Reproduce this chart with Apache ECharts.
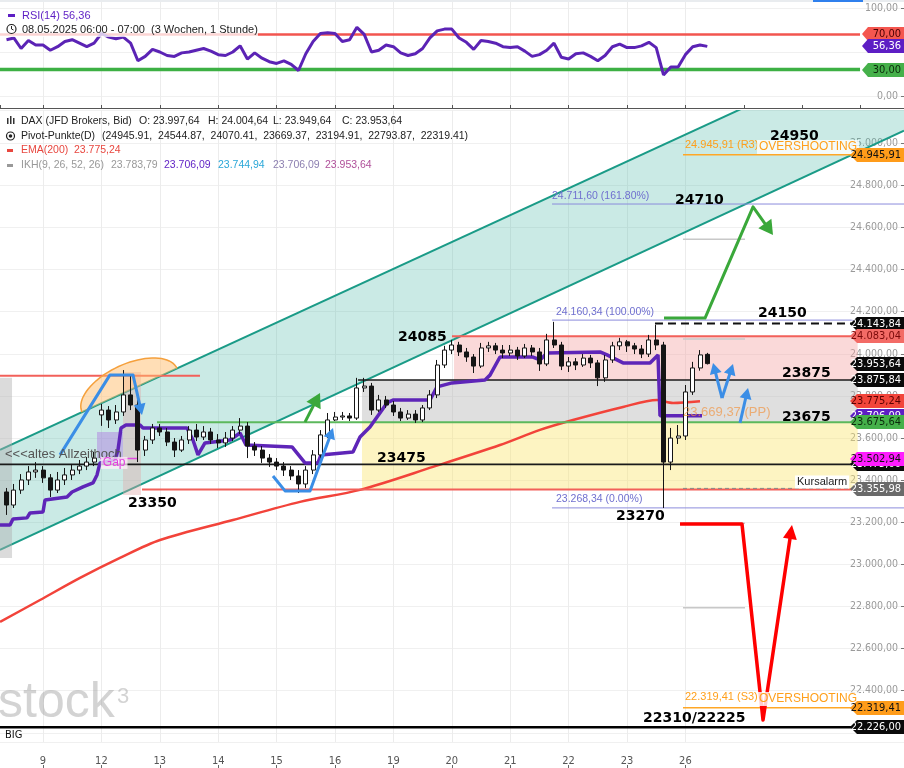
<!DOCTYPE html>
<html><head><meta charset="utf-8"><title>DAX</title>
<script src="https://cdn.jsdelivr.net/npm/echarts@6.0.0/dist/echarts.min.js"></script>
<style>html,body{margin:0;padding:0;background:#fff;overflow:hidden}#chart{width:904px;height:768px}</style>
</head><body><div id="chart"></div><script>
// ---------------- data ----------------
const dayLabels = ['9','12','13','14','15','16','19','20','21','22','23','26'];
// [open, close, low, high], 8 bars per trading day, first bar = slot 3 of 08.05.
const candles = [
[23344,23282,23235,23363],[23282,23353,23268,23382],[23353,23401,23335,23429],[23401,23439,23377,23467],[23439,23448,23411,23486],
[23448,23411,23387,23467],[23411,23353,23320,23429],[23353,23401,23339,23439],[23401,23425,23377,23458],[23425,23448,23401,23477],[23448,23467,23429,23496],[23467,23486,23448,23510],[23486,23505,23467,23534],
[23710,23733,23658,23762],[23733,23686,23648,23752],[23686,23724,23667,23757],[23724,23805,23705,23923],[23805,23757,23733,23895],[23757,23543,23486,23781],[23543,23591,23515,23610],[23591,23648,23572,23667],
[23648,23629,23610,23667],[23629,23581,23562,23648],[23581,23543,23510,23600],[23543,23591,23534,23610],[23591,23638,23572,23657],[23638,23605,23586,23667],[23605,23629,23591,23657],[23629,23591,23572,23648],
[23591,23577,23553,23619],[23577,23600,23558,23629],[23600,23638,23586,23657],[23638,23657,23619,23695],[23657,23562,23505,23676],[23562,23543,23515,23581],[23543,23505,23482,23562],[23505,23486,23463,23524],
[23486,23467,23448,23505],[23467,23448,23420,23486],[23448,23420,23401,23467],[23420,23382,23339,23448],[23382,23448,23363,23467],[23448,23520,23429,23543],[23520,23615,23505,23638],[23615,23686,23600,23719],
[23686,23700,23681,23724],[23700,23705,23686,23724],[23705,23695,23681,23719],[23695,23838,23686,23886],[23838,23847,23819,23886],[23847,23733,23710,23862],[23733,23781,23724,23805],[23781,23757,23743,23800],
[23757,23724,23705,23776],[23724,23695,23681,23743],[23695,23714,23686,23733],[23714,23686,23672,23733],[23686,23743,23676,23757],[23743,23805,23733,23828],[23805,23947,23790,23971],[23947,24018,23933,24038],
[24018,24042,23999,24066],[24042,24009,23990,24057],[24009,23985,23962,24028],[23985,23942,23909,23999],[23942,24028,23933,24052],[24028,24038,24009,24057],[24038,24018,23999,24052],[24018,24004,23980,24042],
[24004,24018,23990,24042],[24018,23990,23971,24033],[23990,24028,23980,24047],[24028,24009,23990,24042],[24009,23952,23919,24028],[23952,24066,23942,24095],[24066,24042,24028,24152],[24042,23942,23923,24057],
[23942,23962,23914,23985],[23962,23947,23923,23980],[23947,23980,23938,23999],[23980,23957,23933,23995],[23957,23886,23847,23971],[23886,23971,23867,23995],[23971,24038,23957,24057],[24038,24057,24018,24076],
[24057,24038,24009,24066],[24038,24023,23999,24052],[24023,23999,23980,24042],[23999,24066,23985,24090],[24066,24042,24018,24138],[24042,23486,23268,24057],[23486,23600,23448,23648],[23600,23610,23572,23662],
[23610,23819,23591,23852],[23819,23933,23805,23962],[23933,23995,23920,24018],[23997.64,23953.64,23949.64,24004.64]
];
const rsiValues = [64,66,54,63,58,58,52,56,62,64,60,56,60,71,67,65,67,60,40,45,53,50,46,45,49,50,52,54,51,47,46,50,57,42,49,43,39,37,40,36,29,48,62,71,72,71,62,64,78,70,50,52,58,56,49,46,48,54,66,74,76,76,66,61,53,63,62,60,56,55,56,51,45,47,52,60,44,42,48,49,45,40,46,56,59,55,55,57,61,55,24,33,33,47,56,58,56.36];
const emaPoints = [[0.264,22727],[0.949,22831],[1.634,22936],[2.318,23031],[3.003,23116],[4.253,23211],[5.401,23297],[6.428,23354],[7.678,23463],[8.825,23567],[9.51,23639],[10.075,23686],[10.932,23748],[11.514,23781],[11.788,23767],[12.25,23775.24]];
const ikhPoints = [[0.264,23187],[0.435,23187],[0.486,23216],[0.726,23221],[0.777,23244],[1.0,23249],[1.034,23306],[1.411,23320],[1.497,23344],[1.685,23368],[1.856,23387],[1.925,23425],[1.976,23482],[2.233,23496],[2.284,23543],[2.336,23648],[2.421,23662],[2.661,23662],[2.712,23648],[3.466,23648],[3.568,23591],[3.654,23520],[3.774,23577],[4.202,23591],[4.373,23624],[4.476,23567],[5.264,23558],[5.486,23482],[5.709,23482],[5.76,23520],[6.308,23534],[6.428,23605],[6.599,23653],[6.89,23767],[6.993,23781],[7.627,23781],[7.747,23843],[8.003,23862],[8.568,23876],[8.654,23899],[8.825,23985],[9.39,23985],[9.51,23971],[9.63,24004],[10.538,24009],[10.658,23995],[10.932,23957],[11.394,23957],[11.531,23995],[11.565,23706.09],[12.284,23706.09]];
const channelUpper = [[0.2637,23544],[15.743,25519]];
const channelLower = [[0.2637,23069],[15.743,25060]];
const domeChord = [[1.668,23723],[3.295,23931]];
const zonePink = [[8.038,14.95,23875.84,24083.04]];
const zoneGray = [[6.462,14.95,23675.64,23875.84]];
const zoneYellow = [[6.462,14.95,23355.98,23675.64]];
const bandGray = [[0.2637,0.47,23031,23886]];
const bandPink = [[2.37,2.678,23330,23914]];
const gapBox = [[1.925,2.37,23505,23629]];
const redLevels = [[0.2637,3.688,23896],[8.003,15.743,24083.04],[2.695,15.743,23355.98]];
const blackLevels = [[6.394,15.743,23875.84],[0.2637,15.743,23475]];
const greenLevels = [[2.952,15.743,23675.64]];
const bigLevels = [[0.2637,15.743,22226]];
const fibLevels = [[9.716,15.743,24711.60],[9.716,15.743,24160.34],[9.716,15.743,23268.34]];
const pivotGrayLevels = [[11.959,13.021,24544.87],[11.959,13.021,24070.41],[11.959,13.021,23194.91],[11.959,13.021,22793.87]];
const pivotOrangeLevels = [[11.959,15.743,24945.91],[11.959,15.743,22319.41]];
const dashedLevels = [[11.479,14.85,24143.84]];
const alarmLevels = [[11.959,14.904,23361]];
const magentaLevels = [[1.976,2.627,23502.94]];
const rsiRedLevels = [[0.2637,14.99,70]];
const rsiGreenLevels = [[0.2637,14.99,30]];
const blueArrows = [
  [[1.291,23520],[2.147,23900],[2.541,23900],[2.695,23710]],
  [[4.938,23420],[5.144,23349],[5.572,23349],[5.966,23648]],
  [[12.627,23790],[12.473,23957]],
  [[12.627,23790],[12.815,23952]],
  [[12.935,23672],[13.072,23838]]
];
const greenArrows = [
  [[5.486,23676],[5.743,23814]],
  [[11.634,24170],[12.336,24170],[13.158,24698],[13.5,24565]]
];
const redArrows = [[[11.908,23192],[12.969,23192],[13.329,22261],[13.825,23187]]];
const boldLabelPos = [[13.449,25035],[11.822,24731],[13.243,24190],[7.079,24080],[13.654,23905],[13.654,23700],[6.719,23506],[2.455,23292],[10.812,23230],[11.274,22271]];
const boldLabelText = ['24950','24710','24150','24085','23875','23675','23475','23350','23270','22310/22225'];
const fibLabelPos = [[9.716,24750],[9.784,24199],[9.784,23311]];
const fibLabelText = ['24.711,60 (161.80%)','24.160,34 (100.00%)','23.268,34 (0.00%)'];
const pivotLabelPos = [[11.993,24992],[11.993,22370]];
const pivotLabelText = ['24.945,91 (R3)','22.319,41 (S3)'];
const ppLabelPos = [[11.959,23724]];
const ppLabelText = ['23.669,37 (PP)'];
const overLabelPos = [[13.226,24983],[13.226,22361]];
const overLabelText = ['OVERSHOOTING','OVERSHOOTING'];
const noteLabelPos = [[0.349,23520]];
const noteLabelText = ['<<<altes Allzeithoch'];
const gapLabelPos = [[1.99,23482]];
const gapLabelText = ['Gap'];
const alarmLabelPos = [[13.877,23391]];
const alarmLabelText = ['Kursalarm'];
const bigLabelPos = [[0.349,22188]];
const bigLabelText = ['BIG'];
const tagPrices = [24945.91,24143.84,24083.04,23953.64,23875.84,23775.24,23706.09,23675.64,23475.00,23502.94,23355.98,22319.41,22226.00];
const rsiTagValues = [70,56.36,30];

// ---------------- styles ----------------
const tagStyles = [
  {bg:'#ff9c1a',fg:'#111'},{bg:'#0a0a0a',fg:'#fff'},{bg:'#f36b66',fg:'#7a0a0a'},{bg:'#0a0a0a',fg:'#fff'},
  {bg:'#0a0a0a',fg:'#fff'},{bg:'#f2453b',fg:'#5a0000'},{bg:'#5d1ec4',fg:'#fff'},{bg:'#45b04a',fg:'#0b2a0b'},
  {bg:'#0a0a0a',fg:'#fff'},{bg:'#ff1cff',fg:'#111'},{bg:'#6a6a6a',fg:'#fff'},{bg:'#ff9c1a',fg:'#111'},{bg:'#0a0a0a',fg:'#fff'}
];
const rsiTagStyles = [{bg:'#f4564f',fg:'#4a0000'},{bg:'#5d1ec4',fg:'#fff'},{bg:'#45b04a',fg:'#0b2a0b'}];
const SANS = '"Liberation Sans", Arial, sans-serif';
const NARROW = '"Liberation Sans Narrow", "DejaVu Sans Condensed", "Liberation Sans", sans-serif';
const X_MIN = 0.2637, X_MAX = 15.743, PX_PER_DAY = 58.4;
const xOf = k => (k + 3) / 8;

function fmt(v) {
  const s = Math.abs(v).toFixed(2).split('.');
  return (v < 0 ? '-' : '') + s[0].replace(/\B(?=(\d{3})+(?!\d))/g, '.') + ',' + s[1];
}
const GM = {xAxisIndex:1, yAxisIndex:1};
const GR = {xAxisIndex:0, yAxisIndex:0};

function segSeries(segs, st, z, g) {
  return Object.assign({type:'custom', silent:true, clip:true, z:z, data:segs, encode:{x:[0,1], y:2},
    renderItem:function(params, api){
      const a = api.coord([api.value(0), api.value(2)]);
      const b = api.coord([api.value(1), api.value(2)]);
      return {type:'line', shape:{x1:a[0], y1:a[1], x2:b[0], y2:b[1]},
        style:{stroke:st.color, lineWidth:st.width, lineDash:st.dash || null}};
    }}, g || GM);
}
function rectSeries(rects, fill, z) {
  return Object.assign({type:'custom', silent:true, clip:true, z:z, data:rects, encode:{x:[0,1], y:[2,3]},
    renderItem:function(params, api){
      const a = api.coord([api.value(0), api.value(3)]);
      const b = api.coord([api.value(1), api.value(2)]);
      return {type:'rect', shape:{x:a[0], y:a[1], width:b[0]-a[0], height:b[1]-a[1]}, style:{fill:fill}};
    }}, GM);
}
function textSeries(pos, texts, st, z) {
  return Object.assign({type:'custom', silent:true, clip:false, z:z,
    data:pos.map((p,i)=>[p[0],p[1],i]), encode:{x:0, y:1},
    renderItem:function(params, api){
      const c = api.coord([api.value(0), api.value(1)]);
      const s = {text:texts[api.value(2)], x:c[0], y:c[1], fill:st.color, font:st.font,
        align:'left', verticalAlign:'middle'};
      if (st.bg) { s.backgroundColor = st.bg; s.padding = st.pad || [1,2]; }
      return {type:'text', style:s};
    }}, GM);
}
function arrowSeries(lines, st, z) {
  return Object.assign({type:'custom', silent:true, clip:true, z:z,
    data:lines.map((l,i)=>[l[0][0], l[0][1], i]), encode:{x:0, y:1},
    renderItem:function(params, api){
      const pts = lines[api.value(2)].map(p => api.coord(p));
      const T = pts[pts.length-1], P = pts[pts.length-2];
      const dx = T[0]-P[0], dy = T[1]-P[1], L = Math.hypot(dx,dy);
      const ux = dx/L, uy = dy/L, nx = -uy, ny = ux;
      const bx = T[0]-ux*st.head, by = T[1]-uy*st.head;
      const line = pts.slice(0,-1).concat([[bx+ux*2, by+uy*2]]);
      return {type:'group', children:[
        {type:'polyline', shape:{points:line}, style:{stroke:st.color, lineWidth:st.width, fill:null, lineJoin:'round'}},
        {type:'polygon', shape:{points:[T,[bx+nx*st.half, by+ny*st.half],[bx-nx*st.half, by-ny*st.half]]}, style:{fill:st.color}}
      ]};
    }}, GM);
}
function tagSeries(vals, styles, g, z, tipW, bodyW) {
  return Object.assign({type:'custom', silent:true, clip:false, z:z,
    data:vals.map((p,i)=>[1,p,i]), encode:{x:0, y:1},
    renderItem:function(params, api){
      const cs = params.coordSys, R = cs.x + cs.width;
      const y = Math.round(api.coord([api.value(0), api.value(1)])[1]);
      const st = styles[api.value(2)], h = 7;
      return {type:'group', children:[
        {type:'polygon', shape:{points:[[R-tipW,y],[R-bodyW,y-h],[R,y-h],[R,y+h],[R-bodyW,y+h]]}, style:{fill:st.bg}},
        {type:'text', style:{text:fmt(api.value(1)), x:R-3, y:y+0.5, align:'right', verticalAlign:'middle', fill:st.fg, font:'11px ' + NARROW}}
      ]};
    }}, g);
}
const channelSeries = Object.assign({type:'custom', silent:true, clip:true, z:2,
  data:[[channelUpper[0][0], channelUpper[0][1]]], encode:{x:0, y:1},
  renderItem:function(params, api){
    const u0 = api.coord(channelUpper[0]), u1 = api.coord(channelUpper[1]);
    const l0 = api.coord(channelLower[0]), l1 = api.coord(channelLower[1]);
    return {type:'group', children:[
      {type:'polygon', shape:{points:[u0,u1,l1,l0]}, style:{fill:'rgba(80,185,170,0.30)'}},
      {type:'line', shape:{x1:u0[0],y1:u0[1],x2:u1[0],y2:u1[1]}, style:{stroke:'#1a9b87', lineWidth:2}},
      {type:'line', shape:{x1:l0[0],y1:l0[1],x2:l1[0],y2:l1[1]}, style:{stroke:'#1a9b87', lineWidth:2}}
    ]};
  }}, GM);
const domeSeries = Object.assign({type:'custom', silent:true, clip:true, z:5,
  data:[[domeChord[0][0], domeChord[0][1]]], encode:{x:0, y:1},
  renderItem:function(params, api){
    const A = api.coord(domeChord[0]), B = api.coord(domeChord[1]);
    const cx = (A[0]+B[0])/2, cy = (A[1]+B[1])/2, dx = B[0]-A[0], dy = B[1]-A[1];
    const len = Math.hypot(dx,dy), a = len/2, b = a*0.5, ux = dx/len, uy = dy/len, nx = uy, ny = -ux;
    const pts = [];
    for (let i = 0; i <= 40; i++) { const t = Math.PI*i/40;
      pts.push([cx + a*Math.cos(t)*ux + b*Math.sin(t)*nx, cy + a*Math.cos(t)*uy + b*Math.sin(t)*ny]); }
    return {type:'group', children:[
      {type:'polygon', shape:{points:pts}, style:{fill:'rgba(255,190,110,0.5)'}},
      {type:'polyline', shape:{points:pts}, style:{stroke:'#f5a03c', lineWidth:1.5, fill:null}}
    ]};
  }}, GM);

// ---------------- graphics (legends, watermark) ----------------
const G = [];
function gt(x, y, text, color, font, z) {
  G.push({type:'text', x:x, y:y, z:z || 100, silent:true,
    style:{text:text, fill:color, font:font, align:'left', verticalAlign:'middle', textAlign:'left', textVerticalAlign:'middle'}});
}
function gr(x, y, w, h, fill, z) { G.push({type:'rect', z:z || 100, silent:true, shape:{x:x,y:y,width:w,height:h}, style:{fill:fill}}); }
const LF = '10.5px ' + SANS, RF = '11px ' + SANS;
gr(0,0,904,2,'#e9ecef',99); gr(813,0,50,2,'#2f80ed',100);
gr(0,20,258,17,'rgba(255,255,255,0.75)',90);
gr(8,14,7,3,'#5d1ec4');
gt(22,15.5,'RSI(14)','#5d1ec4',RF); gt(63,15.5,'56,36','#5d1ec4',RF);
G.push({type:'circle', z:100, silent:true, shape:{cx:11.5, cy:29, r:4.5}, style:{fill:null, stroke:'#222', lineWidth:1.2}});
G.push({type:'polyline', z:100, silent:true, shape:{points:[[11.5,26],[11.5,29],[13.5,30]]}, style:{fill:null, stroke:'#222', lineWidth:1}});
gt(22,29.5,'08.05.2025 06:00 - 07:00','#222',RF); gt(151,29.5,'(3 Wochen, 1 Stunde)','#222',RF);
// main legend
gr(7,118,1.5,6,'#333'); gr(10,116,1.5,8,'#333'); gr(13,118,1.5,6,'#333');
gt(21,121,'DAX (JFD Brokers, Bid)','#222',LF);
gt(139,121,'O: 23.997,64','#222',LF); gt(208,121,'H: 24.004,64','#222',LF);
gt(273,121,'L: 23.949,64','#222',LF); gt(342,121,'C: 23.953,64','#222',LF);
G.push({type:'circle', z:100, silent:true, shape:{cx:10.5, cy:136, r:4}, style:{fill:null, stroke:'#222', lineWidth:1.2}});
G.push({type:'circle', z:100, silent:true, shape:{cx:10.5, cy:136, r:1.8}, style:{fill:'#222'}});
gt(21,136,'Pivot-Punkte(D)','#222',LF);
gt(102,136,'(24945.91,  24544.87,  24070.41,  23669.37,  23194.91,  22793.87,  22319.41)','#222',LF);
gr(7,149,6,3,'#e8473f');
gt(21,150.5,'EMA(200)','#e8473f',LF); gt(74,150.5,'23.775,24','#e8473f',LF);
gr(7,164,6,3,'#999');
gt(21,165.5,'IKH(9, 26, 52, 26)','#999',LF); gt(111,165.5,'23.783,79','#999',LF);
gt(164,165.5,'23.706,09','#5d1ec4',LF); gt(218,165.5,'23.744,94','#2aa7d8',LF);
gt(273,165.5,'23.706,09','#8c7fb0',LF); gt(325,165.5,'23.953,64','#b0509a',LF);
// watermark
G.push({type:'text', x:-2, y:678, z:1, silent:true, style:{text:'stock', fill:'rgba(150,150,150,0.42)', font:'50px ' + SANS, align:'left', verticalAlign:'top', textAlign:'left', textVerticalAlign:'top'}});
G.push({type:'text', x:117, y:686, z:1, silent:true, style:{text:'3', fill:'rgba(150,150,150,0.42)', font:'22px ' + SANS, align:'left', verticalAlign:'top', textAlign:'left', textVerticalAlign:'top'}});

// ---------------- axes ----------------
// vertical grid lines only at the labelled trading days (tick 0 = axis min, then 1..15, then axis max)
const vGridColors = ['rgba(0,0,0,0)'].concat(Array(12).fill('#ececec'), Array(5).fill('rgba(0,0,0,0)'));
function xAxisBase(grid) {
  return {type:'value', gridIndex:grid, min:X_MIN, max:X_MAX, minInterval:1, maxInterval:1,
    axisLine:{show:false}, axisTick:{show:false}, axisLabel:{show:false},
    splitLine:{show:true, lineStyle:{color:vGridColors, width:1}}};
}
const isInt = v => Math.abs(v - Math.round(v)) < 1e-6;
const xAxes = [
  Object.assign(xAxisBase(0), {axisLine:{show:true, onZero:false, lineStyle:{color:'#555', width:1}},
    axisTick:{show:true, inside:true, length:3, lineStyle:{color:'#555'}}}),
  xAxisBase(1),
  {type:'value', gridIndex:2, min:X_MIN, max:dayLabels.length, minInterval:1, maxInterval:1,
    axisLine:{show:false}, splitLine:{show:false}, axisTick:{show:true, length:3, lineStyle:{color:'#666'}},
    axisLabel:{show:true, inside:true, margin:-2, color:'#555', fontSize:11, fontFamily:NARROW, showMinLabel:false,
      formatter:v => (isInt(v) && Math.round(v) >= 1 && Math.round(v) <= dayLabels.length) ? dayLabels[Math.round(v)-1] : ''}}
];
const yAxes = [
  {type:'value', gridIndex:0, position:'right', min:-13.636, max:109.09, minInterval:50, maxInterval:50,
    axisLine:{show:false}, axisTick:{show:true, inside:true, length:3, lineStyle:{color:'#777'}},
    axisLabel:{inside:true, margin:6, color:'#9a9a9a', fontSize:10.5, fontFamily:NARROW, showMinLabel:false, showMaxLabel:false,
      formatter:v => (Math.abs(v) < 1e-6 ? '0,00' : (Math.abs(v-100) < 1e-6 ? '100,00' : ''))},
    splitLine:{show:true, lineStyle:{color:'#f0f0f0'}}},
  {type:'value', gridIndex:1, position:'right', min:22156.5, max:25158.2, minInterval:200, maxInterval:200,
    axisLine:{show:false}, axisTick:{show:true, inside:true, length:3, lineStyle:{color:'#777'}},
    axisLabel:{inside:true, margin:6, color:'#9a9a9a', fontSize:10.5, fontFamily:NARROW, showMinLabel:false, showMaxLabel:false,
      formatter:v => (v >= 22300 && v <= 25100 && isInt(v/200)) ? fmt(v) : ''},
    splitLine:{show:true, lineStyle:{color:'#f0f0f0'}}},
  {type:'value', gridIndex:2, show:false, min:0, max:1}
];

// ---------------- series ----------------
const series = [
  rectSeries(zonePink, 'rgba(244,165,165,0.42)', 1),
  rectSeries(zoneGray, 'rgba(185,185,185,0.45)', 1),
  channelSeries,
  rectSeries(bandGray, 'rgba(175,175,175,0.45)', 2),
  rectSeries(bandPink, 'rgba(225,170,170,0.40)', 2),
  {type:'line', xAxisIndex:1, yAxisIndex:1, z:3, silent:true, data:emaPoints, symbol:'none', smooth:0.3,
    lineStyle:{color:'#f2433a', width:2.5}},
  rectSeries(zoneYellow, 'rgba(250,228,110,0.42)', 3),
  segSeries(redLevels, {color:'#f2605a', width:2}, 4),
  segSeries(blackLevels, {color:'#1a1a1a', width:1.6}, 4),
  segSeries(greenLevels, {color:'#5cb85c', width:2}, 4),
  segSeries(bigLevels, {color:'#000', width:2.5}, 4),
  segSeries(fibLevels, {color:'#8c8cdc', width:1}, 4),
  segSeries(pivotGrayLevels, {color:'#c8c8c8', width:1.5}, 4),
  segSeries(pivotOrangeLevels, {color:'#ffa726', width:1.5}, 4),
  segSeries(dashedLevels, {color:'#111', width:2, dash:[8,5]}, 4),
  segSeries(alarmLevels, {color:'#888', width:1, dash:[4,3]}, 4),
  segSeries(magentaLevels, {color:'#e14ee0', width:1.5}, 4),
  rectSeries(gapBox, 'rgba(175,130,225,0.50)', 4),
  {type:'line', xAxisIndex:1, yAxisIndex:1, z:5, silent:true, data:ikhPoints, symbol:'none',
    lineStyle:{color:'#5e25b8', width:3.5}},
  domeSeries,
  {type:'candlestick', xAxisIndex:1, yAxisIndex:1, z:6, silent:true, barWidth:4.5,
    data:candles.map((c,k) => [xOf(k), c[0], c[1], c[2], c[3]]), encode:{x:0, y:[1,2,3,4]},
    itemStyle:{color:'#ffffff', color0:'#151515', borderColor:'#151515', borderColor0:'#151515', borderWidth:1}},
  arrowSeries(blueArrows, {color:'#3b8ee6', width:3, head:11, half:6}, 8),
  arrowSeries(greenArrows, {color:'#3aa83a', width:3, head:14, half:8}, 8),
  arrowSeries(redArrows, {color:'#ff0000', width:3.5, head:14, half:7}, 8),
  textSeries(boldLabelPos, boldLabelText, {color:'#000', font:'bold 14px "DejaVu Sans", Verdana, sans-serif'}, 9),
  textSeries(fibLabelPos, fibLabelText, {color:'#6f6fcf', font:'10.5px ' + SANS}, 9),
  textSeries(pivotLabelPos, pivotLabelText, {color:'#ff9f1a', font:'11px ' + SANS}, 9),
  textSeries(ppLabelPos, ppLabelText, {color:'rgba(240,150,70,0.7)', font:'13px ' + SANS}, 9),
  textSeries(overLabelPos, overLabelText, {color:'#ff9f1a', font:'12px ' + SANS, bg:'rgba(255,255,255,0.8)', pad:[1,2]}, 9),
  textSeries(noteLabelPos, noteLabelText, {color:'#555', font:'13px ' + SANS}, 9),
  textSeries(gapLabelPos, gapLabelText, {color:'#e23ee0', font:'12px ' + SANS, bg:'rgba(255,240,250,0.75)', pad:[0,2]}, 9),
  textSeries(alarmLabelPos, alarmLabelText, {color:'#222', font:'11px ' + SANS, bg:'#fff', pad:[1,2]}, 9),
  textSeries(bigLabelPos, bigLabelText, {color:'#111', font:'11px ' + NARROW}, 9),
  tagSeries(tagPrices, tagStyles, GM, 10, 54, 47),
  // RSI panel
  segSeries(rsiRedLevels, {color:'#f2554f', width:2.5}, 3, GR),
  segSeries(rsiGreenLevels, {color:'#3db044', width:3.5}, 3, GR),
  {type:'line', xAxisIndex:0, yAxisIndex:0, z:5, silent:true, data:rsiValues.map((v,k) => [xOf(k), v]), symbol:'none',
    lineStyle:{color:'#5b23b5', width:3}},
  tagSeries(rsiTagValues, rsiTagStyles, GR, 10, 42, 36)
];

const chart = echarts.init(document.getElementById('chart'), null, {renderer:'canvas'});
chart.setOption({
  animation:false, backgroundColor:'#ffffff',
  grid:[{left:0, top:0, width:904, height:108}, {left:0, top:110, width:904, height:632},
        {left:0, top:764, width:(dayLabels.length - X_MIN) * PX_PER_DAY, height:1}],
  xAxis:xAxes, yAxis:yAxes, series:series, graphic:{elements:G}
});
</script></body></html>
